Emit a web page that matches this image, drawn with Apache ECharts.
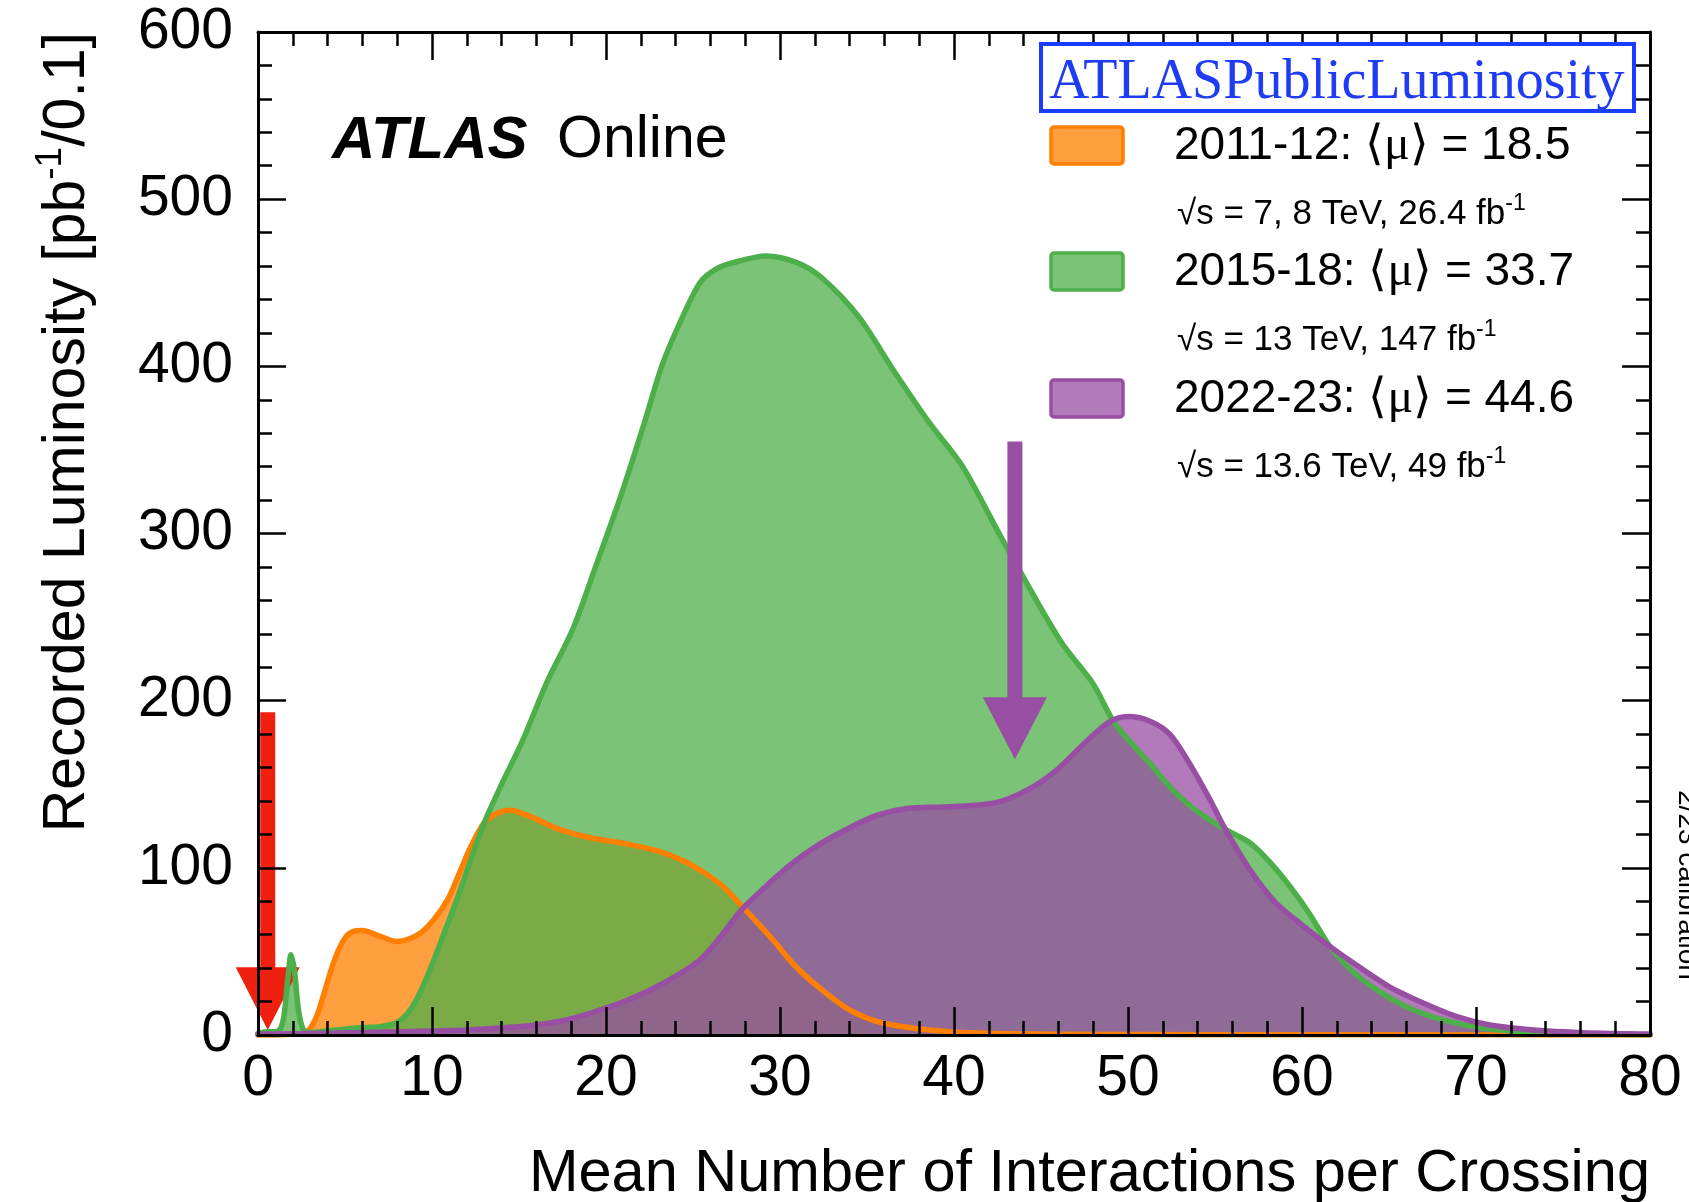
<!DOCTYPE html>
<html>
<head>
<meta charset="utf-8">
<script src="https://cdn.jsdelivr.net/npm/echarts@6/dist/echarts.min.js"></script>
<style>
  html, body { margin: 0; padding: 0; background: #ffffff; }
  #chart { width: 1689px; height: 1202px; }
</style>
</head>
<body>
<div id="chart"></div>
<script>
// Recorded luminosity per 0.1 bin of <mu>, [mu, pb^-1/0.1]
const run2011_12 = [
  [0, 0], [1, 0], [2, 0.5], [2.6, 1], [3.0, 4], [3.4, 12], [3.8, 25], [4.4, 45], [5.0, 58],
  [5.5, 62], [6.0, 62.5], [6.9, 59.5], [8.0, 56], [9.2, 60], [10.1, 69], [10.9, 81],
  [11.5, 95], [12.2, 112], [13.0, 127], [13.8, 133], [14.5, 134.5], [15.7, 130.5],
  [17.2, 123.5], [19.1, 118], [21.1, 114.5], [23.0, 110], [24.5, 104], [25.5, 98],
  [26.6, 90], [28.0, 75], [29.5, 58], [30.9, 41], [32.3, 28], [34.0, 15], [35.6, 8],
  [37.7, 4], [39.7, 2], [42, 1], [46, 0.5], [55, 0.2], [80, 0]
];
const run2015_18 = [
  [0, 1], [0.5, 2], [1.0, 2], [1.3, 4], [1.5, 12], [1.7, 32], [1.9, 48], [2.1, 38],
  [2.3, 17], [2.5, 6], [2.7, 2], [3.0, 1.5], [4, 2.5], [5, 3.5], [6, 4.5], [7, 5],
  [7.9, 7], [8.6, 13], [9.2, 23], [10.0, 42], [10.7, 61], [11.5, 83], [12.3, 107],
  [13.0, 127], [14.0, 150], [15.2, 176], [16.6, 211], [18.1, 243], [19.5, 283],
  [20.9, 324], [22.2, 366], [23.2, 400], [24.2, 425], [25.4, 450], [26.3, 458],
  [27.3, 462], [29.2, 466], [31.0, 462], [32.4, 453], [34.5, 430], [36.5, 398],
  [38.6, 366], [40.5, 340], [42.8, 296], [46.1, 236], [48.0, 210], [49.2, 187],
  [50.5, 171], [51.3, 162], [52.4, 148.5], [53.7, 136], [55.4, 124], [57.0, 115],
  [58.1, 104], [59.3, 89], [60.4, 73], [61.6, 53], [62.8, 39], [64.3, 27], [66.2, 16],
  [68.1, 9], [70.4, 4], [73.3, 1.5], [76, 0.6], [80, 0.2]
];
const run2022_23 = [
  [0, 0.5], [4, 1], [8, 2], [12, 3], [15.6, 5.5], [17.5, 8.5], [19.4, 14], [21.3, 21],
  [23.3, 31], [25.3, 44], [26.6, 59], [27.8, 75], [29.1, 88], [30.5, 101], [32.1, 113],
  [34.0, 124], [35.6, 131.5], [37.3, 135.5], [39.7, 136.5], [42.4, 139], [44.2, 146.5],
  [45.9, 158.5], [47.5, 174.5], [48.9, 187], [50.0, 190.5], [51.2, 188], [52.4, 180],
  [53.5, 163], [54.7, 141], [55.6, 123], [57.0, 99], [58.5, 79], [60.1, 65], [61.6, 53],
  [63.1, 42], [65.0, 29], [67.0, 19], [68.9, 11], [70.8, 6], [73.3, 3], [76.2, 1.4],
  [80, 0.6]
];

// Legend entries
const periods = ['2011-12', '2015-18', '2022-23'];
const meanMu = ['18.5', '33.7', '44.6'];
const energies = ['7, 8', '13', '13.6'];
const intLumi = ['26.4', '147', '49'];

// Arrows: [mu, top of shaft, base of head, tip] in axis units
const arrowLowMu = [0.56, 193, 40.5, 3];
const arrowRun3 = [43.5, 355, 202, 165];

const lineColors = ['#ff7f00', '#4daf4a', '#984ea3'];
const fillColors = ['rgba(255,127,0,0.75)', 'rgba(77,175,74,0.75)', 'rgba(152,78,163,0.75)'];
const seriesData = [run2011_12, run2015_18, run2022_23];

const FONT = 'Liberation Sans';
const chart = echarts.init(document.getElementById('chart'), null, { renderer: 'canvas' });

function arrowRenderer(color) {
  return function (params, api) {
    const x = api.value(0);
    const pTop = api.coord([x, api.value(1)]);
    const pBase = api.coord([x, api.value(2)]);
    const pTip = api.coord([x, api.value(3)]);
    return {
      type: 'group',
      children: [
        { type: 'rect', shape: { x: pTop[0] - 7.5, y: pTop[1], width: 15, height: pBase[1] - pTop[1] + 1 },
          style: { fill: color } },
        { type: 'polygon', shape: { points: [[pBase[0] - 32, pBase[1]], [pBase[0] + 32, pBase[1]], [pTip[0], pTip[1]]] },
          style: { fill: color } }
      ]
    };
  };
}

const SMOOTH = 0.3;
const series = [];
// filled areas first
seriesData.forEach((d, i) => {
  series.push({
    type: 'line', data: d, smooth: SMOOTH, symbol: 'none', silent: true,
    lineStyle: { width: 0, opacity: 0 },
    areaStyle: { color: fillColors[i], opacity: 1, origin: 0 },
    z: 2 + i * 0.1
  });
});
series.push({
  type: 'custom', data: [arrowLowMu], renderItem: arrowRenderer('#ee2010'), silent: true, z: 3
});
// outlines on top of every fill
seriesData.forEach((d, i) => {
  series.push({
    type: 'line', data: d, smooth: SMOOTH, symbol: 'none', silent: true,
    lineStyle: { width: 5.5, color: lineColors[i], cap: 'round', join: 'round' },
    z: 4 + i * 0.1
  });
});
series.push({
  type: 'custom', data: [arrowRun3], renderItem: arrowRenderer('#984ea3'), silent: true, z: 5
});

const axisCommon = {
  axisLine: { show: true, onZero: false, lineStyle: { color: '#000', width: 3 } },
  axisTick: { show: true, inside: true, length: 28, lineStyle: { color: '#000', width: 2.5 } },
  minorTick: { show: true, splitNumber: 5, length: 14, lineStyle: { color: '#000', width: 2.5 } },
  splitLine: { show: false },
  z: 10
};

// legend block
const graphics = [];
graphics.push({
  type: 'rect', shape: { x: 1041, y: 44, width: 593, height: 67 },
  style: { fill: '#fff', stroke: '#1a3cff', lineWidth: 4 }, z: 20
});
graphics.push({
  type: 'text', x: 1049, y: 83,
  style: { text: 'ATLASPublicLuminosity', font: '56px "Liberation Serif"', fill: '#1f3cf5',
           align: 'left', verticalAlign: 'middle' }, z: 21
});
const rowY = [145.5, 271.5, 398.5];
periods.forEach((p, i) => {
  graphics.push({
    type: 'rect', shape: { x: 1051, y: rowY[i] - 18.5, width: 72, height: 37, r: 3 },
    style: { fill: fillColors[i], stroke: lineColors[i], lineWidth: 3.5 }, z: 20
  });
  graphics.push({
    type: 'text', x: 1174, y: rowY[i] + 1,
    style: {
      text: '{t|' + p + ': }{m|⟨μ⟩}{t| = ' + meanMu[i] + '}',
      align: 'left', verticalAlign: 'middle',
      rich: {
        t: { fontFamily: FONT, fontSize: 46, fill: '#000' },
        m: { fontFamily: 'Liberation Serif', fontSize: 48, fill: '#000' }
      }
    }, z: 21
  });
  graphics.push({
    type: 'text', x: 1177, y: rowY[i] + 69,
    style: {
      text: '{t|√s = ' + energies[i] + ' TeV, ' + intLumi[i] + ' fb}{s|-1}',
      align: 'left', verticalAlign: 'middle',
      rich: {
        t: { fontFamily: FONT, fontSize: 35, lineHeight: 44, fill: '#000' },
        s: { fontFamily: FONT, fontSize: 23, lineHeight: 23, verticalAlign: 'top', fill: '#000' }
      }
    }, z: 21
  });
});
// experiment label
graphics.push({
  type: 'text', x: 332, y: 141,
  style: { text: 'ATLAS', font: 'italic bold 60px "Liberation Sans"', fill: '#000',
           align: 'left', verticalAlign: 'middle' }, z: 21
});
graphics.push({
  type: 'text', x: 557, y: 141,
  style: { text: 'Online', font: '59px "Liberation Sans"', fill: '#000',
           align: 'left', verticalAlign: 'middle' }, z: 21
});
// axis titles
graphics.push({
  type: 'text', x: 1650, y: 1175,
  style: { text: 'Mean Number of Interactions per Crossing', font: '59.5px "Liberation Sans"',
           fill: '#000', align: 'right', verticalAlign: 'middle' }, z: 21
});
graphics.push({
  type: 'text', x: 68, y: 32, rotation: Math.PI / 2,
  style: {
    text: '{a|Recorded Luminosity [pb}{s|-1}{a|/0.1]}',
    align: 'right', verticalAlign: 'middle',
    rich: {
      a: { fontFamily: FONT, fontSize: 59, lineHeight: 72, fill: '#000' },
      s: { fontFamily: FONT, fontSize: 37, lineHeight: 37, verticalAlign: 'top', fill: '#000' }
    }
  }, z: 21
});
graphics.push({
  type: 'text', x: 1673, y: 790, rotation: -Math.PI / 2,
  style: { text: '2/23 calibration', font: '28px "Liberation Sans"', fill: '#000',
           align: 'left', verticalAlign: 'bottom' }, z: 21
});

chart.setOption({
  animation: false,
  backgroundColor: '#ffffff',
  grid: { left: 258, right: 39, top: 32, bottom: 167, containLabel: false },
  xAxis: [
    Object.assign({}, axisCommon, {
      type: 'value', min: 0, max: 80, interval: 10, position: 'bottom',
      axisLabel: { show: true, margin: 16, fontFamily: FONT, fontSize: 57, color: '#000' }
    }),
    Object.assign({}, axisCommon, {
      type: 'value', min: 0, max: 80, interval: 10, position: 'top',
      axisLabel: { show: false }
    })
  ],
  yAxis: [
    Object.assign({}, axisCommon, {
      type: 'value', min: 0, max: 600, interval: 100, position: 'left',
      axisLabel: { show: true, margin: 25, fontFamily: FONT, fontSize: 57, color: '#000' }
    }),
    Object.assign({}, axisCommon, {
      type: 'value', min: 0, max: 600, interval: 100, position: 'right',
      axisLabel: { show: false }
    })
  ],
  series: series,
  graphic: graphics
});
</script>
</body>
</html>
